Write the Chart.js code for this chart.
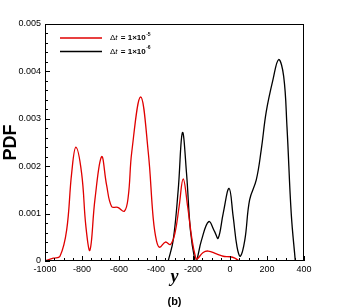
<!DOCTYPE html>
<html>
<head>
<meta charset="utf-8">
<script src="https://cdn.jsdelivr.net/npm/chart.js@4.4.1/dist/chart.umd.min.js"></script>
<style>
  html, body { margin: 0; padding: 0; background: #fff; }
  #wrap { width: 346px; height: 308px; }
</style>
</head>
<body>
<div id="wrap"><canvas id="pdfChart" width="346" height="308"></canvas></div>
<script>
// courbe dt = 1e-5 (rouge)
const redX = [-1000, -955, -919, -883, -856, -833, -802, -779, -757, -730, -694, -667, -640, -607, -571, -550, -531, -483, -442, -415, -397, -380, -349, -322, -298, -275, -253, -229, -205, -185, -178, -145, -118, -73, -37, 0, 26, 49];
const redY = [0, 0.00006, 0.0001, 0.00065, 0.00185, 0.0024, 0.00185, 0.00073, 0.00023, 0.0013, 0.0022, 0.0016, 0.00115, 0.00113, 0.00105, 0.00136, 0.0023, 0.00346, 0.0023, 0.0009, 0.00042, 0.00029, 0.0004, 0.00035, 0.00058, 0.00115, 0.00173, 0.00115, 0.00044, 0.00006, 0.00004, 0.00018, 0.00021, 0.00015, 0.0001, 0.00009, 0.00006, 0];

// courbe dt = 1e-6 (noire)
const blackX = [-334, -307, -280, -257, -235, -214, -190, -181, -154, -115, -83, -64, -37, -5, 17, 38, 56, 80, 106, 142, 169, 196, 232, 263, 290, 308, 331, 353];
const blackY = [0, 0.00044, 0.0015, 0.00271, 0.00185, 0.00065, 0.00002, 0, 0.00044, 0.00083, 0.00062, 0.00048, 0.001, 0.00153, 0.00094, 0.0003, 0.0001, 0.00044, 0.00129, 0.00171, 0.00235, 0.00315, 0.00382, 0.00425, 0.0039, 0.00283, 0.001, 0];

const xTicks = [-1000, -800, -600, -400, -200, 0, 200, 400];
const yTicks = [0, 0.001, 0.002, 0.003, 0.004, 0.005];
const legendLabels = ['\u0394t = 1\u00d710', '\u0394t = 1\u00d710'];
const legendExp = ['-5', '-6'];
const panelLabel = '(b)';

const toPoints = (xs, ys) => xs.map((x, i) => ({ x: x, y: ys[i] }));

// cadre + graduations vers l'interieur + legende
const framePlugin = {
    id: 'frame',
    afterDatasetsDraw(chart) {
        const ctx = chart.ctx;
        const a = chart.chartArea;
        const xs = chart.scales.x, ys = chart.scales.y;
        ctx.save();
        ctx.strokeStyle = '#000';
        ctx.lineWidth = 1;
        ctx.strokeRect(a.left + 0.5, a.top + 0.5, a.right - a.left - 1, a.bottom - a.top - 1);

        ctx.beginPath();
        for (let v = -1000; v <= 400; v += 50) {
            const px = Math.round(xs.getPixelForValue(v)) + 0.5;
            const len = (v % 200 === 0) ? 5 : 3;
            ctx.moveTo(px, a.bottom);
            ctx.lineTo(px, a.bottom - len);
        }
        for (let i = 0; i <= 25; i++) {
            const v = i * 0.0002;
            const py = Math.round(ys.getPixelForValue(v)) + 0.5;
            const len = (i % 5 === 0) ? 5 : 3;
            ctx.moveTo(a.left, py);
            ctx.lineTo(a.left + len, py);
        }
        ctx.stroke();

        // legende
        chart.data.datasets.forEach((ds, i) => {
            const y = a.top + 14 + i * 13.5;
            ctx.strokeStyle = ds.borderColor;
            ctx.lineWidth = 1.5;
            ctx.beginPath();
            ctx.moveTo(a.left + 15, y);
            ctx.lineTo(a.left + 57, y);
            ctx.stroke();

            let tx = a.left + 65;
            ctx.fillStyle = '#000';
            ctx.textBaseline = 'middle';
            ctx.font = '8px "Liberation Sans", Arial, sans-serif';
            ctx.fillText('\u0394', tx, y);
            tx += ctx.measureText('\u0394').width;
            ctx.font = 'italic 8px "Liberation Sans", Arial, sans-serif';
            ctx.fillText('t', tx, y);
            tx += ctx.measureText('t').width + 1;
            ctx.font = 'bold 8px "Liberation Sans", Arial, sans-serif';
            const rest = legendLabels[i].slice(2);
            ctx.fillText(rest, tx, y);
            tx += ctx.measureText(rest).width;
            ctx.font = 'bold 5px "Liberation Sans", Arial, sans-serif';
            ctx.fillText(legendExp[i], tx + 0.5, y - 3.5);
        });

        // etiquette du panneau
        ctx.font = 'bold 11px "Liberation Sans", Arial, sans-serif';
        ctx.textAlign = 'center';
        ctx.textBaseline = 'middle';
        ctx.fillText(panelLabel, (a.left + a.right) / 2, 302);
        ctx.restore();
    }
};

const ctx = document.getElementById('pdfChart').getContext('2d');
new Chart(ctx, {
    type: 'line',
    data: {
        datasets: [{
            label: 'dt = 1e-5',
            data: toPoints(redX, redY),
            borderColor: '#e00000',
            borderWidth: 1.3,
            pointRadius: 0,
            tension: 0.4
        }, {
            label: 'dt = 1e-6',
            data: toPoints(blackX, blackY),
            borderColor: '#000000',
            borderWidth: 1.3,
            pointRadius: 0,
            tension: 0.4
        }]
    },
    options: {
        responsive: false,
        animation: false,
        layout: { padding: { top: 24, right: 42, left: 0, bottom: 20 } },
        plugins: {
            legend: { display: false },
            tooltip: { enabled: false }
        },
        scales: {
            x: {
                type: 'linear',
                min: -1000,
                max: 400,
                afterBuildTicks: s => { s.ticks = xTicks.map(v => ({ value: v })); },
                afterFit: s => { s.height = 27; },
                grid: { display: false, drawTicks: false },
                border: { display: false },
                ticks: {
                    padding: 3,
                    color: '#000',
                    font: { family: '"Liberation Sans", Arial, sans-serif', size: 9 },
                    callback: v => String(v)
                },
                title: {
                    display: true,
                    text: 'y',
                    color: '#000',
                    padding: 0,
                    font: { family: '"Liberation Serif", "Times New Roman", serif', size: 18, style: 'italic', weight: 'bold' }
                }
            },
            y: {
                min: 0,
                max: 0.005,
                afterBuildTicks: s => { s.ticks = yTicks.map(v => ({ value: v })); },
                afterFit: s => { s.width = 45; },
                grid: { display: false, drawTicks: false },
                border: { display: false },
                ticks: {
                    padding: 4,
                    color: '#000',
                    font: { family: '"Liberation Sans", Arial, sans-serif', size: 9 },
                    callback: v => String(v)
                },
                title: {
                    display: true,
                    text: 'PDF',
                    color: '#000',
                    padding: 0,
                    font: { family: '"Liberation Sans", Arial, sans-serif', size: 18, weight: 'bold' }
                }
            }
        }
    },
    plugins: [framePlugin]
});
</script>
</body>
</html>
